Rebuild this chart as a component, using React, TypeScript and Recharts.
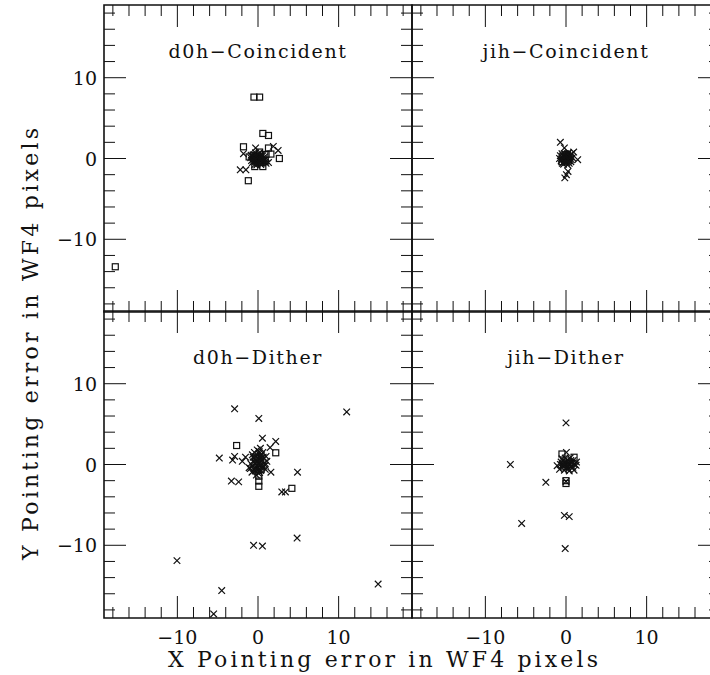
import React from "react";
import { ScatterChart, Scatter, XAxis, YAxis, ReferenceArea } from "recharts";

// axis ranges, in WF4 pixels
const X_DOMAIN: [number, number] = [-19.1, 19.1];
const Y_DOMAIN: [number, number] = [-19, 19];
const TICKS = [-18, -16, -14, -12, -10, -8, -6, -4, -2, 0, 2, 4, 6, 8, 10, 12, 14, 16, 18];
const MAJOR_STEP = 10;

const TITLES = ["d0h\u2212Coincident", "jih\u2212Coincident", "d0h\u2212Dither", "jih\u2212Dither"];
const X_LABEL = "X Pointing error in WF4 pixels";
const Y_LABEL = "Y Pointing error in WF4 pixels";

// [x, y] pointing errors
const d0hCoinSquares = [
  [-0.5, 7.6], [0.2, 7.6], [0.6, 3.1], [1.3, 2.85], [-1.8, 1.45], [1.3, 1.3], [1.6, 0.55],
  [2.65, 0], [-0.4, -1.0], [0.6, -1.0], [-1.2, -2.75], [-17.7, -13.4], [0.2, 0.8], [-1.1, 0.2],
  [0.9, -0.3], [-0.6, 0.4], [0.3, -0.5], [1.0, 0.5],
];
const d0hCoinCrosses = [
  [1.9, 1.5], [2.5, 1.0], [-0.3, 1.3], [-1.8, 0.6], [-2.2, -1.4], [-1.5, -1.4], [1.3, -0.5],
  [1.0, -0.6], [0, 0], [0.2, 0.1], [-0.2, -0.1], [0.4, 0.3], [-0.4, 0.2], [0.3, -0.3],
  [-0.3, -0.4], [0.6, 0], [-0.6, -0.1], [0.1, 0.5], [-0.1, -0.6], [0.5, 0.5], [-0.5, 0.5],
  [0.5, -0.6], [-0.7, -0.5], [0.8, 0.2], [-0.9, 0.1], [0.1, -0.2], [0.0, 0.3], [0.7, -0.3],
  [-0.3, 0.7], [0.15, -0.05], [-0.15, 0.15], [0.35, 0.05], [-0.35, -0.2], [0.05, 0.2],
  [-0.05, -0.35], [0.25, -0.15], [-0.25, 0.35], [0.45, -0.1], [-0.45, 0], [0.6, 0.35],
  [-0.65, 0.25], [0.55, -0.35], [-0.55, -0.35], [0.1, 0.65], [-0.15, -0.8], [0.35, -0.75],
  [-0.4, -0.75], [0.75, -0.1], [-0.8, -0.25], [0.9, -0.45], [-0.85, 0.4],
];

const jihCoinSquares = [
  [-0.4, 0.3], [0.3, -0.3], [0.1, 0.5], [-0.5, -0.4], [0.5, 0.2],
];
const jihCoinCrosses = [
  [-0.7, 2.0], [-0.2, 1.3], [0.95, 0.8], [1.45, -0.15], [0.25, -1.6], [-0.15, -2.4], [0.05, -2.0],
  [0, 0], [0.2, 0.2], [-0.2, -0.2], [0.4, -0.1], [-0.4, 0.1], [0.1, -0.5], [-0.1, 0.5],
  [0.5, 0.4], [-0.6, -0.3], [0.6, -0.4], [-0.5, 0.6], [0.3, 0.7], [-0.3, -0.7], [0.8, 0.1],
  [-0.8, 0], [0.2, -0.8], [0.7, 0.6], [0.1, 0.1], [-0.1, -0.1], [0.3, -0.2], [-0.3, 0.3],
  [0.15, 0.35], [-0.25, -0.4], [0.45, 0.1], [-0.55, -0.05], [0.05, -0.3], [-0.05, 0.25],
  [0.6, -0.1], [-0.7, 0.35], [0.4, -0.6], [-0.45, -0.6], [0.2, 0.55], [-0.2, 0.6],
];

const d0hDithSquares = [
  [-2.65, 2.35], [2.2, 1.45], [4.2, -2.95], [0.1, -1.45], [0.1, -2.05], [0.1, -2.7],
  [-0.3, 0.8], [0.4, -0.6],
];
const d0hDithCrosses = [
  [-2.9, 6.9], [0.1, 5.7], [11.0, 6.5], [0.55, 3.25], [2.2, 2.85], [1.5, 2.1], [-4.8, 0.8],
  [-2.9, 1.0], [-3.15, 0.55], [-1.95, 0.4], [-1.55, 0.9], [4.9, -0.95], [-3.3, -2.05],
  [-2.4, -2.15], [2.95, -3.4], [3.4, -3.4], [4.85, -9.1], [-0.55, -10.0], [0.55, -10.1],
  [-10.05, -11.9], [-4.5, -15.6], [14.9, -14.8], [-5.5, -18.5], [1.6, -0.95], [1.0, 1.0],
  [-0.75, -0.95], [0, 0], [0.2, 0.3], [-0.2, -0.3], [0.4, 0.8], [-0.4, 0.6], [0.5, -0.4],
  [-0.5, -0.5], [0.1, 1.3], [-0.1, 1.8], [0.3, 2.0], [0.8, 0.2], [-0.9, 0.1], [0.2, -1.0],
  [-0.2, -1.3], [0.9, -0.6], [-0.7, 1.2], [0.6, 1.5], [0.0, -0.7], [-1.1, -0.4], [1.1, 0.4],
  [0.1, 0.1], [-0.1, 0.4], [0.3, -0.1], [-0.3, 0.1], [0.15, 0.6], [-0.15, -0.6], [0.5, 0.5],
  [-0.55, 0.3], [0.7, -0.2], [-0.7, -0.15], [0.25, 1.0], [-0.25, 1.0], [0.05, -0.35],
  [0.45, 1.2], [-0.45, 1.5], [0.15, 1.6], [-0.6, 0.9], [0.65, 0.9], [0.35, -0.75],
  [-0.35, -0.8], [0.05, -1.1], [0.9, -0.1], [-0.95, -0.5],
];

const jihDithSquares = [
  [-0.5, 1.3], [1.0, 0.9], [0, -2.0], [0, -2.35], [0.4, 0.2], [-0.3, -0.3],
];
const jihDithCrosses = [
  [0, 5.15], [-6.9, 0], [-2.5, -2.2], [-5.5, -7.3], [-0.2, -6.3], [0.4, -6.45], [-0.1, -10.4],
  [0.05, 1.5], [-1.1, -0.15], [1.25, -0.1], [0, 0], [0.3, 0.2], [-0.3, -0.2], [0.6, -0.3],
  [-0.6, 0.3], [0.2, 0.6], [-0.2, -0.7], [0.9, 0.5], [-0.8, -0.6], [1.0, -0.7], [0.5, 0.8],
  [-0.5, 0.7], [0.1, -0.4], [1.3, 0.3], [0, -2.1], [0.15, -0.1], [-0.15, 0.15], [0.45, 0.05],
  [-0.45, -0.1], [0.3, -0.55], [-0.35, 0.45], [0.75, 0.15], [-0.7, 0], [0.6, 0.5],
  [0.0, 0.35], [0.2, -0.25], [1.1, 0.0], [0.85, -0.35], [-0.1, 0.8], [0.4, -0.8],
];

const PANELS = [
  { title: TITLES[0], squares: d0hCoinSquares, crosses: d0hCoinCrosses, col: 0, row: 0 },
  { title: TITLES[1], squares: jihCoinSquares, crosses: jihCoinCrosses, col: 1, row: 0 },
  { title: TITLES[2], squares: d0hDithSquares, crosses: d0hDithCrosses, col: 0, row: 1 },
  { title: TITLES[3], squares: jihDithSquares, crosses: jihDithCrosses, col: 1, row: 1 },
];

// layout
const PLOT_W = 308;
const PLOT_H = 307;
const COL_LEFT = [104, 412];
const ROW_TOP = [5, 311];
const MARGIN = 10;
const Y_AXIS_W = 60;
const X_AXIS_H = 40;
const MAJOR_LEN = 22;
const MINOR_LEN = 11;
const FONT = "'DejaVu Serif', serif";
const INK = "#111";

const toPts = (arr: number[][]) => arr.map(([x, y]) => ({ x, y }));

const crossShape = (p: any) => {
  const s = 3.3;
  return (
    <path
      d={`M${p.cx - s},${p.cy - s}L${p.cx + s},${p.cy + s}M${p.cx - s},${p.cy + s}L${p.cx + s},${p.cy - s}`}
      stroke={INK}
      strokeWidth={1.2}
      fill="none"
    />
  );
};

const squareShape = (p: any) => (
  <rect x={p.cx - 3} y={p.cy - 3} width={6} height={6} stroke={INK} strokeWidth={1.2} fill="none" />
);

const fmt = (v: number) => (v < 0 ? `\u2212${-v}` : `${v}`);

function Panel({ panel }: { panel: (typeof PANELS)[number] }) {
  const showX = panel.row === 1;
  const showY = panel.col === 0;

  // ticks point inwards; bottom/left axis draws the top/right copies too
  const xTick = (p: any) => {
    const v = p.payload.value;
    const len = v % MAJOR_STEP === 0 ? MAJOR_LEN : MINOR_LEN;
    return (
      <g>
        <line x1={p.x} x2={p.x} y1={p.y} y2={p.y - len} stroke={INK} strokeWidth={1} />
        <line x1={p.x} x2={p.x} y1={p.y - PLOT_H} y2={p.y - PLOT_H + len} stroke={INK} strokeWidth={1} />
        {showX && v % MAJOR_STEP === 0 && (
          <text x={p.x} y={p.y + 26} textAnchor="middle" fontFamily={FONT} fontSize={19} fill={INK}>
            {fmt(v)}
          </text>
        )}
      </g>
    );
  };

  const yTick = (p: any) => {
    const v = p.payload.value;
    const len = v % MAJOR_STEP === 0 ? MAJOR_LEN : MINOR_LEN;
    return (
      <g>
        <line x1={p.x} x2={p.x + len} y1={p.y} y2={p.y} stroke={INK} strokeWidth={1} />
        <line x1={p.x + PLOT_W} x2={p.x + PLOT_W - len} y1={p.y} y2={p.y} stroke={INK} strokeWidth={1} />
        {showY && v % MAJOR_STEP === 0 && (
          <text x={p.x - 7} y={p.y + 7} textAnchor="end" fontFamily={FONT} fontSize={19} fill={INK}>
            {fmt(v)}
          </text>
        )}
      </g>
    );
  };

  return (
    <div
      style={{
        position: "absolute",
        left: COL_LEFT[panel.col] - MARGIN - Y_AXIS_W,
        top: ROW_TOP[panel.row] - MARGIN,
      }}
    >
      <ScatterChart
        width={MARGIN * 2 + Y_AXIS_W + PLOT_W}
        height={MARGIN * 2 + X_AXIS_H + PLOT_H}
        margin={{ top: MARGIN, right: MARGIN, bottom: MARGIN, left: MARGIN }}
      >
        <XAxis
          type="number"
          dataKey="x"
          domain={X_DOMAIN}
          ticks={TICKS}
          interval={0}
          tickSize={0}
          tickMargin={0}
          height={X_AXIS_H}
          axisLine={false}
          tickLine={false}
          tick={xTick}
          allowDataOverflow
        />
        <YAxis
          type="number"
          dataKey="y"
          domain={Y_DOMAIN}
          ticks={TICKS}
          interval={0}
          tickSize={0}
          tickMargin={0}
          width={Y_AXIS_W}
          axisLine={false}
          tickLine={false}
          tick={yTick}
          allowDataOverflow
        />
        <ReferenceArea
          x1={X_DOMAIN[0]}
          x2={X_DOMAIN[1]}
          y1={Y_DOMAIN[0]}
          y2={Y_DOMAIN[1]}
          fill="none"
          stroke={INK}
          strokeWidth={1.6}
          ifOverflow="visible"
        />
        <Scatter data={toPts(panel.squares)} shape={squareShape} isAnimationActive={false} />
        <Scatter data={toPts(panel.crosses)} shape={crossShape} isAnimationActive={false} />
      </ScatterChart>
    </div>
  );
}

export default function App() {
  return (
    <div
      style={{
        position: "absolute",
        left: 0,
        top: 0,
        width: 710,
        height: 675,
        overflow: "hidden",
        background: "#fff",
      }}
    >
      {PANELS.map((p) => (
        <Panel key={p.title} panel={p} />
      ))}
      <svg
        width={710}
        height={675}
        style={{ position: "absolute", left: 0, top: 0, pointerEvents: "none" }}
      >
        {PANELS.map((p) => (
          <text
            key={p.title}
            x={COL_LEFT[p.col] + PLOT_W / 2}
            y={ROW_TOP[p.row] + 53}
            textAnchor="middle"
            fontFamily={FONT}
            fontSize={19}
            letterSpacing={1.6}
            fill={INK}
          >
            {p.title}
          </text>
        ))}
        <text x={383} y={667} textAnchor="middle" fontFamily={FONT} fontSize={22} textLength={430} lengthAdjust="spacing" fill={INK}>
          {X_LABEL}
        </text>
        <text
          x={0}
          y={0}
          transform="translate(38,344) rotate(-90)"
          textAnchor="middle"
          fontFamily={FONT}
          fontSize={22}
          textLength={432}
          lengthAdjust="spacing"
          fill={INK}
        >
          {Y_LABEL}
        </text>
      </svg>
    </div>
  );
}
